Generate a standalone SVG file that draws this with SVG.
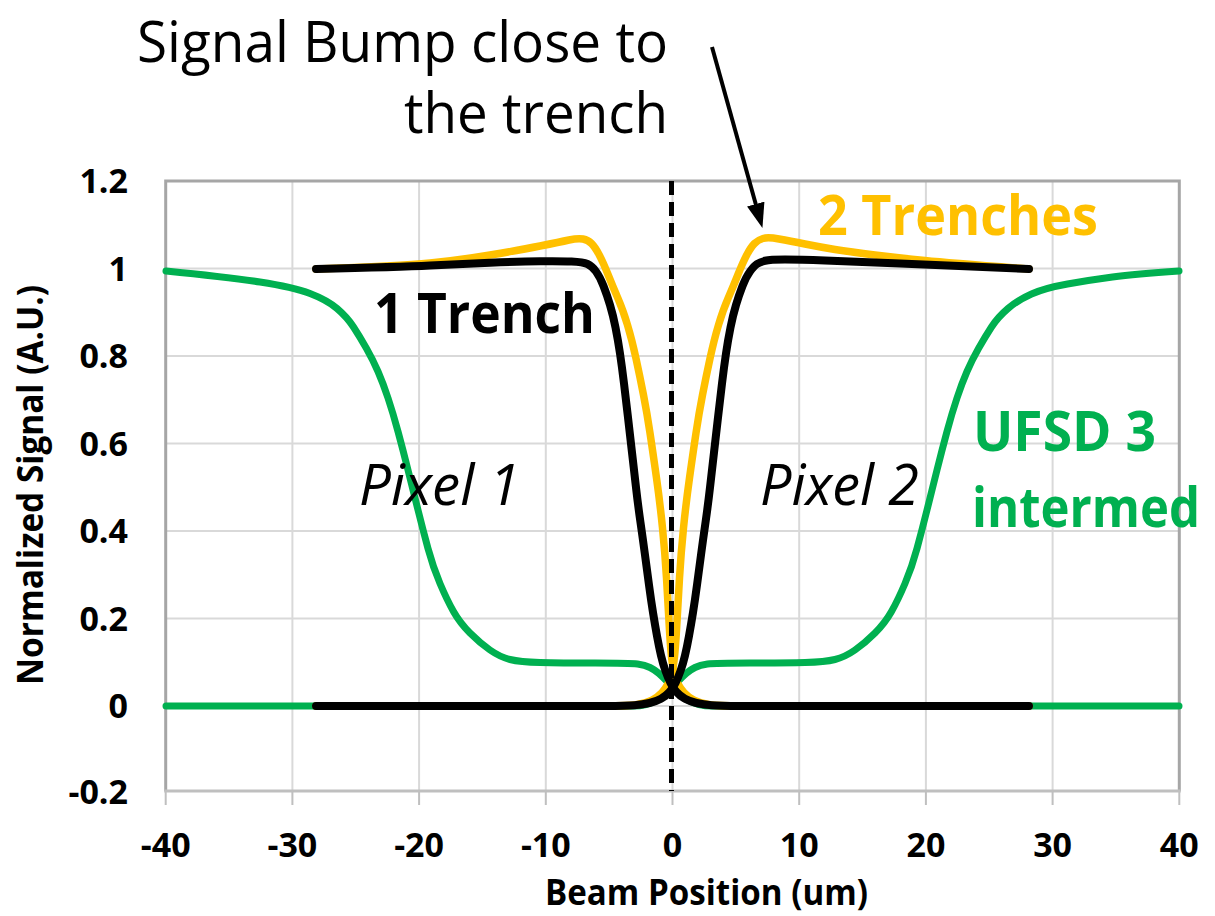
<svg xmlns="http://www.w3.org/2000/svg" width="1215" height="916" viewBox="0 0 1215 916">
  <style>
    .grid { stroke: #d9d9d9; stroke-width: 2; fill: none; }
    .frame { stroke: #a6a6a6; stroke-width: 3; fill: none; }
    .axis { stroke: #bfbfbf; stroke-width: 3; fill: none; }
    .tick { stroke: #bfbfbf; stroke-width: 2; }
    .curve { fill: none; stroke-width: 7; stroke-linejoin: round; stroke-linecap: round; }
    .green { stroke: #00b050; }
    .yellow { stroke: #ffc000; stroke-width: 7.5; }
    .black { stroke: #000000; stroke-width: 8; }
    .ticklbl { font-family: "Open Sans", "Liberation Sans", sans-serif; font-weight: bold; font-size: 34px; fill: #000; }
    .axtitle { font-family: "Open Sans", "Liberation Sans", sans-serif; font-weight: bold; font-size: 36px; fill: #000; }
    .note { font-family: "Open Sans", "Liberation Sans", sans-serif; font-size: 56px; fill: #000; }
    .bold { font-weight: bold; }
    .italic { font-style: italic; }
  </style>
  <defs>
    <marker id="arrowhead" viewBox="0 0 26 20" markerWidth="26" markerHeight="20" refX="1" refY="10" orient="auto" markerUnits="userSpaceOnUse">
      <path d="M0,1 L25,10 L0,19 z" fill="#000"/>
    </marker>
  </defs>

  <rect x="0" y="0" width="1215" height="916" fill="#ffffff"/>

  <!-- plot area grid -->
  <g id="grid">
    <path class="grid" d="M292.4,181 V791 M419.1,181 V791 M545.8,181 V791 M672.5,181 V791 M799.2,181 V791 M925.9,181 V791 M1052.6,181 V791"/>
    <path class="grid" d="M166,268.5 H1179 M166,356 H1179 M166,443.5 H1179 M166,531 H1179 M166,618.5 H1179 M166,706 H1179"/>
    <path class="frame" d="M165.7,791 V181 H1179.3 V791"/>
    <path class="axis" d="M164.2,791 H1180.8"/>
    <path class="tick" d="M165.7,791 V805 M292.4,791 V805 M419.1,791 V805 M545.8,791 V805 M672.5,791 V805 M799.2,791 V805 M925.9,791 V805 M1052.6,791 V805 M1179.3,791 V805"/>
  </g>

  <!-- axis labels -->
  <g id="y-axis">
    <text class="ticklbl" text-anchor="end" x="128" y="193">1.2</text>
    <text class="ticklbl" text-anchor="end" x="128" y="280.5">1</text>
    <text class="ticklbl" text-anchor="end" x="128" y="368">0.8</text>
    <text class="ticklbl" text-anchor="end" x="128" y="455.5">0.6</text>
    <text class="ticklbl" text-anchor="end" x="128" y="543">0.4</text>
    <text class="ticklbl" text-anchor="end" x="128" y="630.5">0.2</text>
    <text class="ticklbl" text-anchor="end" x="128" y="718">0</text>
    <text class="ticklbl" text-anchor="end" x="128" y="804">-0.2</text>
    <text class="axtitle" text-anchor="middle" transform="translate(43,485) rotate(-90)" textLength="400" lengthAdjust="spacingAndGlyphs">Normalized Signal (A.U.)</text>
  </g>
  <g id="x-axis">
    <text class="ticklbl" text-anchor="middle" x="165.7" y="857">-40</text>
    <text class="ticklbl" text-anchor="middle" x="292.4" y="857">-30</text>
    <text class="ticklbl" text-anchor="middle" x="419.1" y="857">-20</text>
    <text class="ticklbl" text-anchor="middle" x="545.8" y="857">-10</text>
    <text class="ticklbl" text-anchor="middle" x="672.5" y="857">0</text>
    <text class="ticklbl" text-anchor="middle" x="799.2" y="857">10</text>
    <text class="ticklbl" text-anchor="middle" x="925.9" y="857">20</text>
    <text class="ticklbl" text-anchor="middle" x="1052.6" y="857">30</text>
    <text class="ticklbl" text-anchor="middle" x="1179.3" y="857">40</text>
    <text class="axtitle" x="545" y="905" textLength="323" lengthAdjust="spacingAndGlyphs">Beam Position (um)</text>
  </g>

  <!-- data series -->
  <g id="series">
    <!-- UFSD 3 intermediate, pixel 1 -->
    <path class="curve green" d="M166,271 Q227,277 260,282 Q293,287 310,293.5 Q327,300 337,308.5 Q347,317 353.5,327 Q360,337 366.5,348.5 Q373,360 378,371.5 Q383,383 388,398 Q393,413 398,431.5 Q403,450 408,470 Q413,490 418,510 Q423,530 428,548.5 Q433,567 440,583.5 Q447,600 453.5,611.5 Q460,623 470,633 Q480,643 490,650 Q500,657 510,659.5 Q520,662 540,662.5 Q560,663 595,663 Q630,663 637.5,664 Q645,665 650,667.5 Q655,670 659,673.5 Q663,677 667.5,682 Q672,687 677,692 Q682,697 687.5,700 Q693,703 699,704.5 Q705,706 712.5,706 L1179,706"/>
    <!-- UFSD 3 intermediate, pixel 2 -->
    <path class="curve green" d="M166,706 L632.5,706 Q640,706 646,704.5 Q652,703 657.5,700 Q663,697 668,692 Q673,687 677.5,682 Q682,677 686,673.5 Q690,670 695,667.5 Q700,665 707.5,664 Q715,663 750,663 Q785,663 805,662.5 Q825,662 835,659.5 Q845,657 855,650 Q865,643 875,633 Q885,623 891.5,611.5 Q898,600 905,583.5 Q912,567 917,548.5 Q922,530 927,510 Q932,490 937,470 Q942,450 947,431.5 Q952,413 957,398 Q962,383 967,371.5 Q972,360 978.5,348.5 Q985,337 991.5,327 Q998,317 1008,308.5 Q1018,300 1031.5,294 Q1045,288 1067.5,284 Q1090,280 1112.5,277 Q1135,274 1179,271"/>
    <!-- 2 trenches, pixel 1 -->
    <path class="curve yellow" d="M316,269 Q400,266 430,263 Q460,260 490,255 Q520,250 540,246 Q560,242 569,240 Q578,238 583,239 Q588,240 591.5,243.5 Q595,247 599,254.5 Q603,262 608,274.5 Q613,287 618,298.5 Q623,310 627.5,325 Q632,340 636,358.5 Q640,377 643.5,395 Q647,413 650,433 Q653,453 656.5,478 Q660,503 662.5,528 Q665,553 666.5,578 Q668,603 669,621.5 Q670,640 671,651.5 Q672,663 673.5,670.5 Q675,678 677.5,683 Q680,688 684,692.5 Q688,697 694,700 Q700,703 708.5,704.5 Q717,706 740,706 L1029,706"/>
    <!-- 2 trenches, pixel 2 -->
    <path class="curve yellow" d="M1029,269 Q950,263 925,260.5 Q900,258 875,255 Q850,252 835,249.5 Q820,247 805,244 Q790,241 779,239 Q768,237 763,238.5 Q758,240 754.5,243.5 Q751,247 747,254.5 Q743,262 738,274.5 Q733,287 728,298.5 Q723,310 718.5,325 Q714,340 710,358.5 Q706,377 702.5,395 Q699,413 696,433 Q693,453 689.5,478 Q686,503 683.5,528 Q681,553 679.5,578 Q678,603 677,621.5 Q676,640 675,651.5 Q674,663 672.5,670.5 Q671,678 668.5,683 Q666,688 662,692.5 Q658,697 652,700 Q646,703 637.5,704.5 Q629,706 606,706 L316,706"/>
    <!-- 1 trench, pixel 1 -->
    <path class="curve black" d="M316,269 Q400,267 430,265.5 Q460,264 490,262.75 Q520,261.5 540,261.25 Q560,261 571.5,261.5 Q583,262 587.5,264 Q592,266 596,271.5 Q600,277 603.5,286 Q607,295 610,305 Q613,315 615.5,327.5 Q618,340 620,353.5 Q622,367 624,383.5 Q626,400 628,417.5 Q630,435 632,452.5 Q634,470 636,487.5 Q638,505 640.5,522.5 Q643,540 645,555 Q647,570 649,585 Q651,600 653,612.5 Q655,625 657,636 Q659,647 661,655.5 Q663,664 665.5,671 Q668,678 670.5,683 Q673,688 676.5,692 Q680,696 685,698.75 Q690,701.5 696.5,703 Q703,704.5 711.5,705.25 Q720,706 740,706 L1029,706"/>
    <!-- 1 trench, pixel 2 -->
    <path class="curve black" d="M1029,269 Q950,265.5 900,263.5 Q850,261.5 825,260.5 Q800,259.5 785,259.5 Q770,259.5 765,260.75 Q760,262 757,264 Q754,266 750,271.5 Q746,277 742.5,286 Q739,295 736,305 Q733,315 730.5,327.5 Q728,340 726,353.5 Q724,367 722,383.5 Q720,400 718,417.5 Q716,435 714,452.5 Q712,470 710,487.5 Q708,505 705.5,522.5 Q703,540 701,555 Q699,570 697,585 Q695,600 693,612.5 Q691,625 689,636 Q687,647 685,655.5 Q683,664 680.5,671 Q678,678 675.5,683 Q673,688 669.5,692 Q666,696 661,698.75 Q656,701.5 649.5,703 Q643,704.5 634.5,705.25 Q626,706 606,706 L316,706"/>
  </g>

  <!-- pixel boundary -->
  <g id="boundary">
    <line x1="671.5" y1="181" x2="671.5" y2="791" stroke="#000" stroke-width="5" stroke-dasharray="14 7"/>
  </g>

  <!-- labels -->
  <g id="label-bump">
    <text class="note" x="137" y="62" textLength="531" lengthAdjust="spacingAndGlyphs">Signal Bump close to</text>
    <text class="note" x="404" y="133" textLength="264" lengthAdjust="spacingAndGlyphs">the trench</text>
  </g>
  <g id="connectors">
    <line x1="712" y1="47" x2="756" y2="205" stroke="#000" stroke-width="4" marker-end="url(#arrowhead)"/>
  </g>
  <g id="label-2-trenches">
    <text class="note bold" x="818" y="235" style="fill:#ffc000" textLength="280" lengthAdjust="spacingAndGlyphs">2 Trenches</text>
  </g>
  <g id="label-1-trench">
    <text class="note bold" x="374" y="333" textLength="221" lengthAdjust="spacingAndGlyphs">1 Trench</text>
  </g>
  <g id="label-pixel-1">
    <text class="note italic" x="359" y="505" textLength="161" lengthAdjust="spacingAndGlyphs">Pixel 1</text>
  </g>
  <g id="label-pixel-2">
    <text class="note italic" x="760" y="505" textLength="159" lengthAdjust="spacingAndGlyphs">Pixel 2</text>
  </g>
  <g id="label-ufsd">
    <text class="note bold" x="973" y="451" style="fill:#00b050" textLength="183" lengthAdjust="spacingAndGlyphs">UFSD 3</text>
    <text class="note bold" x="972" y="527" style="fill:#00b050" textLength="228" lengthAdjust="spacingAndGlyphs">intermed</text>
  </g>
</svg>
